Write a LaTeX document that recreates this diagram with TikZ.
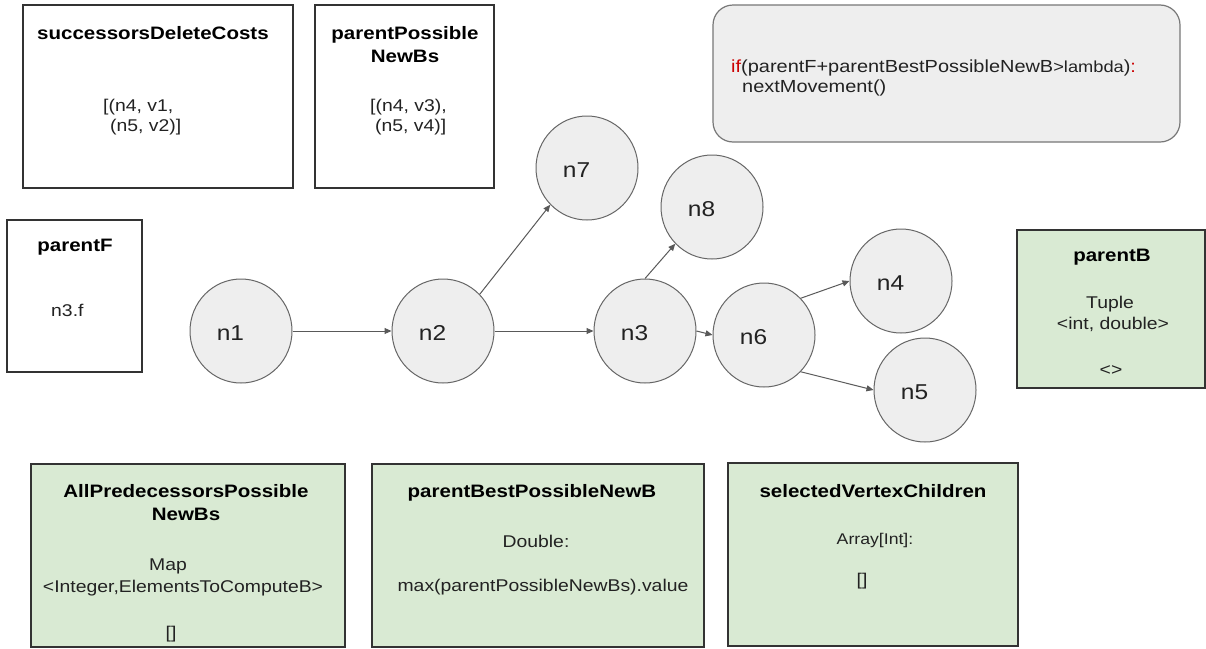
\documentclass[tikz,border=0pt]{standalone}
\usepackage{fontspec}
\setmainfont{Liberation Sans}[FakeStretch=1.14]
\usetikzlibrary{shapes.geometric,arrows.meta}

\definecolor{nodefill}{HTML}{EEEEEE}
\definecolor{nodeline}{HTML}{666666}
\definecolor{edgeline}{HTML}{595959}
\definecolor{boxline}{HTML}{333333}
\definecolor{codeline}{HTML}{777777}
\definecolor{greenfill}{HTML}{D9EAD3}
\definecolor{codered}{HTML}{CC0000}
\definecolor{txt}{HTML}{222222}

\tikzset{
  plainbox/.style={rectangle, draw=boxline, line width=1.2pt, fill=white, inner sep=0pt},
  greenbox/.style={plainbox, fill=greenfill},
  codebox/.style={rectangle, rounded corners=20pt, draw=codeline, line width=1.2pt, fill=nodefill, inner sep=0pt},
  vtx/.style={ellipse, draw=nodeline, line width=1pt, fill=nodefill,
              minimum width=102pt, minimum height=104pt, inner sep=0pt},
  vlab/.style={font=\fontsize{21.5}{25}\selectfont, text=txt, inner sep=0pt},
  ttl/.style={font=\fontsize{18}{22}\selectfont\bfseries, text=black, inner sep=0pt, anchor=base},
  bodytxt/.style={font=\fontsize{17}{21}\selectfont, text=txt, inner sep=0pt, anchor=base},
  smalltxt/.style={bodytxt, font=\fontsize{15.5}{19}\selectfont},
  link/.style={draw=edgeline, line width=1pt, -{Triangle[length=7pt,width=6pt]}},
}

\begin{document}
\begin{tikzpicture}[x=1pt,y=-1pt]
\useasboundingbox (0,0) rectangle (1206,648);

% ---------- frames ----------
\node[plainbox, minimum width=270pt, minimum height=183pt] (sdc) at (158,96.5) {};
\node[plainbox, minimum width=179pt, minimum height=183pt] (ppn) at (404.5,96.5) {};
\node[codebox, minimum width=467pt, minimum height=137pt] (cond) at (946.5,73.5) {};
\node[plainbox, minimum width=135pt, minimum height=152pt] (pf) at (74.5,296) {};
\node[greenbox, minimum width=188pt, minimum height=158pt] (pb) at (1111,309) {};
\node[greenbox, minimum width=314pt, minimum height=183pt] (apn) at (188,555.5) {};
\node[greenbox, minimum width=332pt, minimum height=183pt] (pbn) at (538,555.5) {};
\node[greenbox, minimum width=290pt, minimum height=183pt] (svc) at (873,554.5) {};

% ---------- frame texts ----------
\node[ttl] (sdcT) at (153,39) {successorsDeleteCosts};
\node[bodytxt, anchor=base west] (sdcA) at (103,111) {[(n4, v1,};
\node[bodytxt, anchor=base west] (sdcB) at (110,131) {(n5, v2)]};

\node[ttl] (ppnT1) at (405,39) {parentPossible};
\node[ttl] (ppnT2) at (405,62) {NewBs};
\node[bodytxt, anchor=base west] (ppnA) at (370,111) {[(n4, v3),};
\node[bodytxt, anchor=base west] (ppnB) at (375,131) {(n5, v4)]};

\node[bodytxt, anchor=base west, font=\fontsize{17.5}{21}\selectfont] (condA) at (731,72)
  {\textcolor{codered}{if}(parentF+parentBestPossibleNewB{\fontsize{16}{19}\selectfont>lambda})\textcolor{codered}{:}};
\node[bodytxt, anchor=base west, font=\fontsize{17.5}{21}\selectfont] (condB) at (742,92) {nextMovement()};

\node[ttl] (pfT) at (75,251) {parentF};
\node[bodytxt, anchor=base west] (pfA) at (51,316) {n3.f};

\node[ttl] (pbT) at (1112,261) {parentB};
\node[bodytxt] (pbA) at (1110,308) {Tuple};
\node[bodytxt] (pbB) at (1113,329) {<int, double>};
\node[bodytxt] (pbC) at (1111,375) {<>};

\node[ttl] (apnT1) at (186,497) {AllPredecessorsPossible};
\node[ttl] (apnT2) at (186,520) {NewBs};
\node[bodytxt] (apnA) at (168,570) {Map};
\node[bodytxt] (apnB) at (183,592) {<Integer,ElementsToComputeB>};
\node[bodytxt] (apnC) at (171,638) {[]};

\node[ttl] (pbnT) at (532,497) {parentBestPossibleNewB};
\node[bodytxt] (pbnA) at (536,547) {Double:};
\node[bodytxt] (pbnB) at (543,591) {max(parentPossibleNewBs).value};

\node[ttl] (svcT) at (873,497) {selectedVertexChildren};
\node[smalltxt] (svcA) at (875,544) {Array[Int]:};
\node[bodytxt] (svcB) at (862,585) {[]};

% ---------- search tree ----------
\node[vtx] (n1) at (241,331) {};
\node[vtx] (n2) at (443,331) {};
\node[vtx] (n3) at (645,331) {};
\node[vtx] (n6) at (764,335) {};
\node[vtx] (n7) at (587,168) {};
\node[vtx] (n8) at (712,207) {};
\node[vtx] (n4) at (901,281) {};
\node[vtx] (n5) at (925,390) {};

\foreach \v in {n1,n2,n3,n4,n5,n6,n7,n8}
  \node[vlab] (\v lab) at ([xshift=-10.5pt,yshift=-2pt]\v.center) {\v};

\draw[link] (n1.east) -- (n2.west);
\draw[link] (n2.east) -- (n3.west);
\draw[link] (n2.45) -- (n7.225);
\draw[link] (n3.north) -- (n8.225);
\draw[link] (n3.east) -- (n6.west);
\draw[link] (n6.45) -- (n4.west);
\draw[link] (n6.-45) -- (n5.west);
\end{tikzpicture}
\end{document}
